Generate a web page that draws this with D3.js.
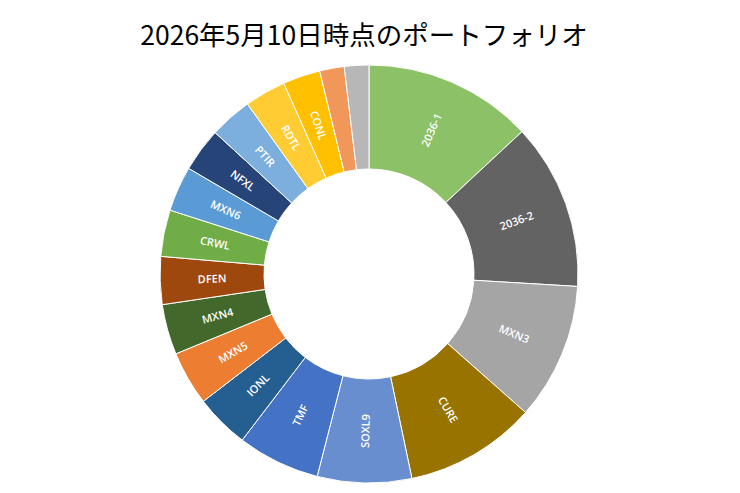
<!DOCTYPE html>
<html>
<head>
<meta charset="utf-8">
<script src="https://cdn.jsdelivr.net/npm/d3@7"></script>
<style>
  body { margin: 0; background: #fff; }
</style>
</head>
<body>
<script>
// 画面サイズ
var w = 740;
var h = 493;

// 銘柄名（時計回り、12時の位置から）
var tickers = ["2036-1", "2036-2", "MXN3", "CURE", "SOXL9", "TMF", "IONL", "MXN5", "MXN4",
    "DFEN", "CRWL", "MXN6", "NFXL", "PTIR", "RDTL", "CONL", "その他1", "その他2"];

// 構成比（%）— 画像から読み取った概算
var shares = [13.1, 12.9, 10.6, 10.2, 7.3, 6.4, 4.2, 4.2, 3.9,
    3.7, 3.6, 3.5, 3.4, 3.3, 3.2, 2.9, 1.9, 1.9];

// 色（Excel 既定パレット）
var colors = ["#8CC168", "#636363", "#A5A5A5", "#997300", "#698ED0", "#4472C4", "#255E91", "#ED7D31", "#43682B",
    "#9E480E", "#70AD47", "#5B9BD5", "#264478", "#7CAFDD", "#FFCD33", "#FFC000", "#F1975A", "#B7B7B7"];

var title = "2026年5月10日時点のポートフォリオ";

var cx = 369;
var cy = 274;
var outerR = 209;
var innerR = 105;

var svg = d3.select("body").append("svg")
    .attr("width", w)
    .attr("height", h);

// タイトル
svg.append("text")
    .attr("x", 364)
    .attr("y", 45)
    .attr("text-anchor", "middle")
    .attr("font-family", "'Noto Sans CJK JP', sans-serif")
    .attr("font-size", "26.5px")
    .attr("fill", "#000")
    .text(title);

var data = tickers.map(function (t, i) {
    return { name: t, value: shares[i], color: colors[i] };
});

var pie = d3.pie()
    .sort(null)
    .value(function (d) { return d.value; });

var arc = d3.arc()
    .innerRadius(innerR)
    .outerRadius(outerR);

var labelArc = d3.arc()
    .innerRadius((innerR + outerR) / 2)
    .outerRadius((innerR + outerR) / 2);

var g = svg.append("g")
    .attr("transform", "translate(" + cx + "," + cy + ")");

var arcs = pie(data);

g.selectAll("path")
    .data(arcs)
    .enter()
    .append("path")
    .attr("d", arc)
    .attr("fill", function (d) { return d.data.color; })
    .attr("stroke", "#fff")
    .attr("stroke-width", 1);

// ラベル（小さい扇形には付けない）
g.selectAll("text")
    .data(arcs.filter(function (d) { return d.endAngle - d.startAngle > 0.15; }))
    .enter()
    .append("text")
    .attr("transform", function (d) {
        var p = labelArc.centroid(d);
        var mid = (d.startAngle + d.endAngle) / 2 * 180 / Math.PI;
        var rot = mid < 180 ? mid - 90 : mid - 270;
        return "translate(" + p[0] + "," + p[1] + ") rotate(" + rot + ")";
    })
    .attr("text-anchor", "middle")
    .attr("dy", "0.35em")
    .attr("font-family", "'Open Sans', sans-serif")
    .attr("font-weight", 600)
    .attr("font-size", "11px")
    .attr("fill", "#fff")
    .text(function (d) { return d.data.name; });
</script>
</body>
</html>
